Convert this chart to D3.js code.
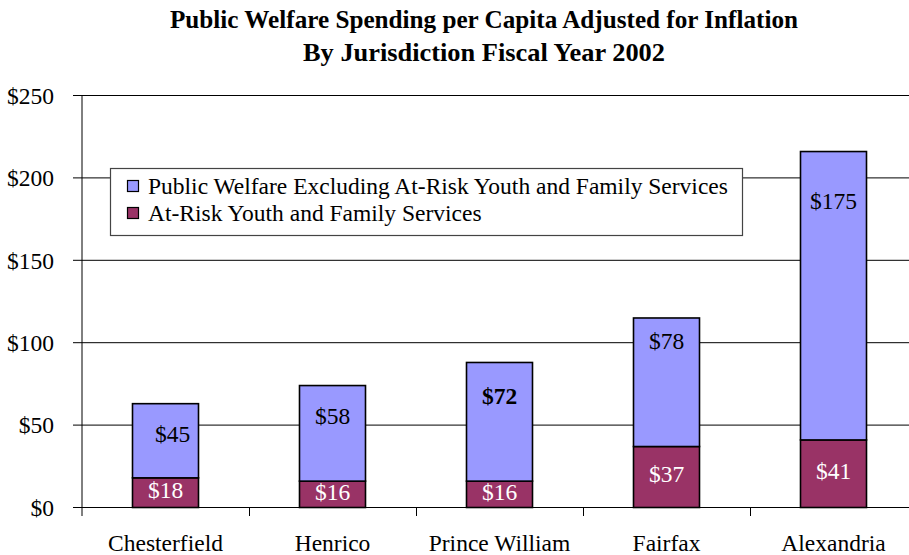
<!DOCTYPE html>
<html><head><meta charset="utf-8">
<script src="https://cdn.jsdelivr.net/npm/d3@7"></script>
<style>body{margin:0;background:#fff}svg{display:block}</style>
</head><body>
<svg id="c" width="909" height="555"></svg>
<script>
const categories = ["Chesterfield","Henrico","Prince William","Fairfax","Alexandria"];
const atRisk = [18,16,16,37,41];
const welfareExcl = [45,58,72,78,175];
const yTicks = [0,50,100,150,200,250];
const seriesNames = ["Public Welfare Excluding At-Risk Youth and Family Services","At-Risk Youth and Family Services"];
const titleLines = ["Public Welfare Spending per Capita Adjusted for Inflation","By Jurisdiction Fiscal Year 2002"];

const colors = {top:"#9999FF", bottom:"#993366"};
const font = "'Liberation Serif','Times New Roman',serif";
const svg = d3.select("#c");
const m = {l:82, r:917, t:95.5, b:507.5};
const x = d3.scaleBand().domain(categories).range([m.l, m.r]).paddingInner(0).paddingOuter(0);
const y = d3.scaleLinear().domain([0,250]).range([m.b, m.t]);
const bw = 66;

// title
svg.append("text").attr("x",484).attr("y",28).attr("text-anchor","middle")
  .attr("font-family",font).attr("font-weight","bold").attr("font-size",25)
  .attr("textLength",628).attr("lengthAdjust","spacingAndGlyphs").text(titleLines[0]);
svg.append("text").attr("x",484).attr("y",61).attr("text-anchor","middle")
  .attr("font-family",font).attr("font-weight","bold").attr("font-size",25)
  .attr("textLength",362).attr("lengthAdjust","spacingAndGlyphs").text(titleLines[1]);

// gridlines
svg.append("g").selectAll("line").data(yTicks).join("line")
  .attr("x1",73).attr("x2",m.r).attr("y1",d=>y(d)).attr("y2",d=>y(d))
  .attr("stroke","#000").attr("stroke-width",1);
// y labels
svg.append("g").selectAll("text").data(yTicks).join("text")
  .attr("x",54).attr("y",d=>y(d)).attr("dy","0.35em").attr("text-anchor","end")
  .attr("font-family",font).attr("font-size",23.5).text(d=>"$"+d);
// y axis line
svg.append("line").attr("x1",m.l).attr("x2",m.l).attr("y1",m.t).attr("y2",516).attr("stroke","#000");
// category ticks
svg.append("g").selectAll("line").data(categories.slice(1)).join("line")
  .attr("x1",d=>Math.round(x(d))+0.5).attr("x2",d=>Math.round(x(d))+0.5).attr("y1",m.b).attr("y2",516).attr("stroke","#000");
// category labels
svg.append("g").selectAll("text").data(categories).join("text")
  .attr("x",d=>x(d)+x.bandwidth()/2).attr("y",551).attr("text-anchor","middle")
  .attr("font-family",font).attr("font-size",23.5).text(d=>d);

// bars
const cx = d => x(d)+x.bandwidth()/2;
const g = svg.append("g");
g.selectAll("rect.b").data(categories).join("rect").attr("class","b")
  .attr("x",d=>cx(d)-bw/2).attr("width",bw)
  .attr("y",(d,i)=>y(atRisk[i])).attr("height",(d,i)=>y(0)-y(atRisk[i]))
  .attr("fill",colors.bottom).attr("stroke","#000").attr("stroke-width",1.6);
g.selectAll("rect.t").data(categories).join("rect").attr("class","t")
  .attr("x",d=>cx(d)-bw/2).attr("width",bw)
  .attr("y",(d,i)=>y(atRisk[i]+welfareExcl[i])).attr("height",(d,i)=>y(atRisk[i])-y(atRisk[i]+welfareExcl[i]))
  .attr("fill",colors.top).attr("stroke","#000").attr("stroke-width",1.6);

// labels
const topOff = [30,30,33,23,49];
const topDx = [7,0,0,0,0];
const topBold = [false,false,true,false,false];
g.selectAll("text.t").data(categories).join("text").attr("class","t")
  .attr("x",(d,i)=>cx(d)+topDx[i]).attr("y",(d,i)=>y(atRisk[i]+welfareExcl[i])+topOff[i])
  .attr("dy","0.35em").attr("text-anchor","middle")
  .attr("font-family",font).attr("font-size",23.5).attr("font-weight",(d,i)=>topBold[i]?"bold":"normal")
  .text((d,i)=>"$"+welfareExcl[i]);
g.selectAll("text.b").data(categories).join("text").attr("class","b")
  .attr("x",d=>cx(d)).attr("y",(d,i)=>(y(0)+y(atRisk[i]))/2-3)
  .attr("dy","0.35em").attr("text-anchor","middle")
  .attr("font-family",font).attr("font-size",23.5).attr("fill","#fff")
  .text((d,i)=>"$"+atRisk[i]);

// legend
const lg = svg.append("g");
lg.append("rect").attr("x",110.5).attr("y",168.5).attr("width",632).attr("height",67)
  .attr("fill","#fff").attr("stroke","#444").attr("stroke-width",1.2);
const legendColors = [colors.top, colors.bottom];
seriesNames.forEach((s,i)=>{
  lg.append("rect").attr("x",127.5).attr("y",180.5+i*27).attr("width",11).attr("height",11)
    .attr("fill",legendColors[i]).attr("stroke","#000").attr("stroke-width",1.2);
  lg.append("text").attr("x",148).attr("y",193.5+i*27).attr("font-family",font).attr("font-size",23.5).text(s);
});
</script>
</body></html>
